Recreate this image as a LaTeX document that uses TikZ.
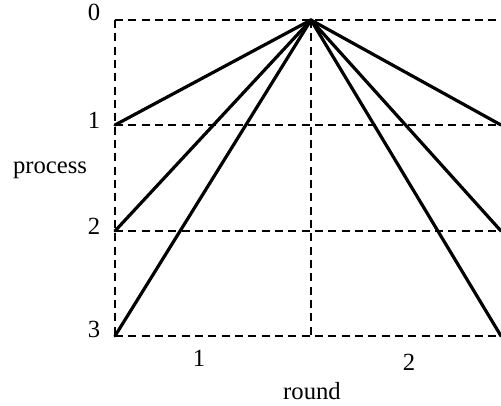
\documentclass[tikz,border=0pt]{standalone}
\usepackage{fontspec}
\setmainfont{Liberation Serif}
\usetikzlibrary{positioning}
\tikzset{
  gridline/.style={dashed,dash pattern=on 6pt off 4pt,line width=1.4pt,black},
  pathline/.style={line width=2.4pt,black,line cap=round},
  ticklabel/.style={font=\fontsize{18.5}{22}\selectfont,inner sep=0pt},
  axislabel/.style={font=\fontsize{18.5}{22}\selectfont,inner sep=0pt},
}
\begin{document}
\begin{tikzpicture}[x=0.75pt,y=-0.75pt]
  \useasboundingbox (0,0) rectangle (501,406);
  % grid points
  \coordinate (p0L) at (115,20);
  \coordinate (p0M) at (311,20);
  \coordinate (p0R) at (501,20);
  \coordinate (p1L) at (115,125);
  \coordinate (p1R) at (501,125);
  \coordinate (p2L) at (115,231);
  \coordinate (p2R) at (501,231);
  \coordinate (p3L) at (115,336);
  \coordinate (p3M) at (311,336);
  \coordinate (p3R) at (501,336);
  \draw[gridline] (p0L) -- (p0R);
  \draw[gridline] (p1L) -- (p1R);
  \draw[gridline] (p2L) -- (p2R);
  \draw[gridline] (p3L) -- (p3R);
  \draw[gridline] (p0L) -- (p3L);
  \draw[gridline] (p0M) -- (p3M);
  \draw[pathline] (p0M) -- (p1L);
  \draw[pathline] (p0M) -- (p2L);
  \draw[pathline] (p0M) -- (p3L);
  \draw[pathline] (p0M) -- (p1R);
  \draw[pathline] (p0M) -- (p2R);
  \draw[pathline] (p0M) -- (p3R);
  % labels
  \node[ticklabel] (lP0) at (94,12) {0};
  \node[ticklabel] (lP1) at (94,120) {1};
  \node[ticklabel] (lP2) at (94,226) {2};
  \node[ticklabel] (lP3) at (94,329) {3};
  \node[axislabel] (lProc) at (50,170) {process};
  \node[ticklabel] (lR1) at (199,358) {1};
  \node[ticklabel] (lR2) at (409,362) {2};
  \node[axislabel] (lRound) at (312,391) {round};
\end{tikzpicture}
\end{document}
